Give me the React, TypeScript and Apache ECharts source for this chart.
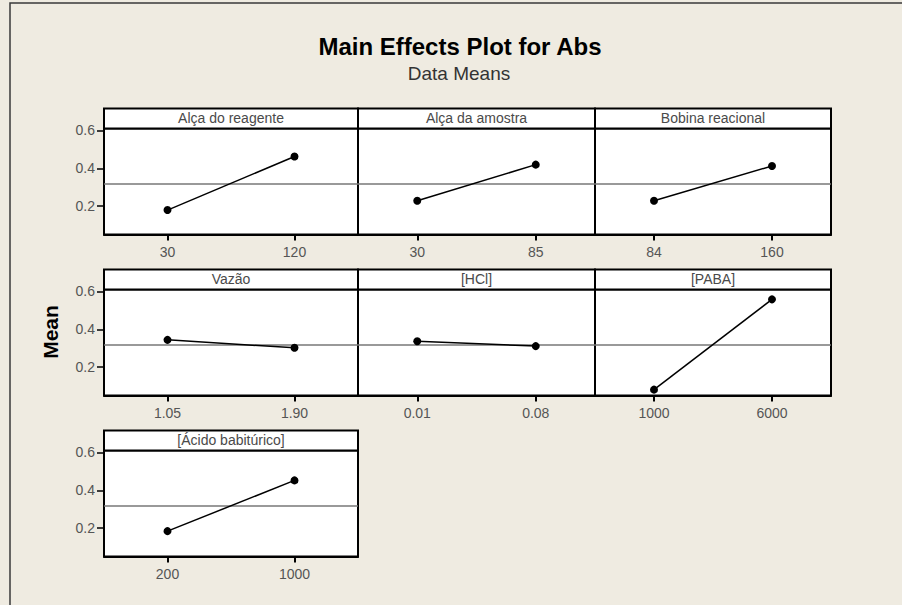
import React, { useEffect, useRef } from "react";
import * as echarts from "echarts";

// Factor names, level labels and the mean response at each level
const factorNames = [
  "Alça do reagente",
  "Alça da amostra",
  "Bobina reacional",
  "Vazão",
  "[HCl]",
  "[PABA]",
  "[Ácido babitúrico]",
];
const levelLabels = [
  ["30", "120"],
  ["30", "85"],
  ["84", "160"],
  ["1.05", "1.90"],
  ["0.01", "0.08"],
  ["1000", "6000"],
  ["200", "1000"],
];
const levelMeans = [
  [0.179, 0.462],
  [0.228, 0.419],
  [0.228, 0.412],
  [0.344, 0.302],
  [0.337, 0.311],
  [0.081, 0.558],
  [0.184, 0.452],
];
const yTicks = [0.2, 0.4, 0.6];

const TITLE = "Main Effects Plot for Abs";
const SUBTITLE = "Data Means";
const Y_NAME = "Mean";

// Panel layout (pixels)
const colLeft = [104, 358, 595];
const colWidth = [254, 237, 236];
const rowTop = [128.5, 289.5, 450.5];
const PLOT_H = 106;
const HEADER_H = 20;
const Y_MIN = 0.05;
const Y_MAX = 0.61;

const BG = "#EFEBE1";
const FONT = "'Liberation Sans', Arial, sans-serif";

export default function App() {
  const ref = useRef<HTMLDivElement>(null);

  useEffect(() => {
    document.body.style.margin = "0";
    document.body.style.overflow = "hidden";
    document.body.style.background = BG;
    document.documentElement.style.overflow = "hidden";
    if (!ref.current) return;
    const chart = echarts.init(ref.current, null, { renderer: "svg" });

    const all = levelMeans.flat();
    const grandMean = all.reduce((a, b) => a + b, 0) / all.length;

    const grids: any[] = [];
    const xAxes: any[] = [];
    const yAxes: any[] = [];
    const series: any[] = [];
    const graphics: any[] = [];

    // outer frame: only the left and top edges fall inside the page
    graphics.push({
      type: "polyline",
      shape: { points: [[10, 620], [10, 3], [920, 3]] },
      style: { fill: "none", stroke: "#3a3a3a", lineWidth: 1.5 },
      z: 1,
    });

    factorNames.forEach((name, i) => {
      const row = Math.floor(i / 3);
      const col = i % 3;
      const left = colLeft[col];
      const width = colWidth[col];
      const top = rowTop[row];

      grids.push({
        left,
        top,
        width,
        height: PLOT_H,
        show: true,
        backgroundColor: "#ffffff",
        borderColor: "#000000",
        borderWidth: 2,
        containLabel: false,
      });

      xAxes.push({
        type: "category",
        gridIndex: i,
        data: levelLabels[i],
        boundaryGap: true,
        axisLine: { show: true, lineStyle: { color: "#000", width: 2 } },
        axisTick: {
          show: true,
          alignWithLabel: true,
          length: 6,
          lineStyle: { color: "#000", width: 2 },
        },
        axisLabel: { color: "#555", fontSize: 14, fontFamily: FONT, margin: 10 },
        splitLine: { show: false },
      });

      const showY = col === 0;
      yAxes.push({
        type: "value",
        gridIndex: i,
        min: Y_MIN,
        max: Y_MAX,
        axisLine: { show: false },
        axisTick: {
          show: showY,
          length: 7,
          customValues: yTicks,
          lineStyle: { color: "#000", width: 1.5 },
        },
        axisLabel: {
          show: showY,
          customValues: yTicks,
          formatter: (v: number) => v.toFixed(1),
          color: "#555",
          fontSize: 14,
          fontFamily: FONT,
          margin: 9,
        },
        splitLine: { show: false },
      });

      series.push({
        type: "line",
        xAxisIndex: i,
        yAxisIndex: i,
        data: levelMeans[i],
        symbol: "circle",
        symbolSize: 8,
        itemStyle: { color: "#000" },
        lineStyle: { color: "#000", width: 1.5 },
        z: 5,
        markLine: {
          silent: true,
          symbol: "none",
          label: { show: false },
          lineStyle: { color: "#777", width: 1.5, type: "solid" },
          data: [{ yAxis: grandMean }],
          z: 3,
        },
      });

      // panel header strip with the factor name
      graphics.push({
        type: "rect",
        shape: { x: left, y: top - HEADER_H, width, height: HEADER_H },
        style: { fill: "#ffffff", stroke: "#000", lineWidth: 2 },
        z: 10,
      });
      graphics.push({
        type: "text",
        x: left + width / 2,
        y: top - HEADER_H / 2 - 0.5,
        style: {
          text: name,
          fill: "#4a4a4a",
          font: `14px ${FONT}`,
          textAlign: "center",
          textVerticalAlign: "middle",
        },
        z: 11,
      });
    });

    graphics.push({
      type: "text",
      x: 460,
      y: 46,
      style: {
        text: TITLE,
        fill: "#000",
        font: `bold 24px ${FONT}`,
        textAlign: "center",
        textVerticalAlign: "middle",
      },
    });
    graphics.push({
      type: "text",
      x: 459,
      y: 73,
      style: {
        text: SUBTITLE,
        fill: "#333",
        font: `19px ${FONT}`,
        textAlign: "center",
        textVerticalAlign: "middle",
      },
    });
    graphics.push({
      type: "text",
      x: 50,
      y: 332,
      rotation: Math.PI / 2,
      style: {
        text: Y_NAME,
        fill: "#000",
        font: `bold 21px ${FONT}`,
        textAlign: "center",
        textVerticalAlign: "middle",
      },
    });

    chart.setOption({
      animation: false,
      backgroundColor: BG,
      grid: grids,
      xAxis: xAxes,
      yAxis: yAxes,
      series,
      graphic: graphics,
    });

    return () => chart.dispose();
  }, []);

  return (
    <div
      ref={ref}
      style={{ position: "fixed", left: 0, top: 0, width: 902, height: 605 }}
    />
  );
}
